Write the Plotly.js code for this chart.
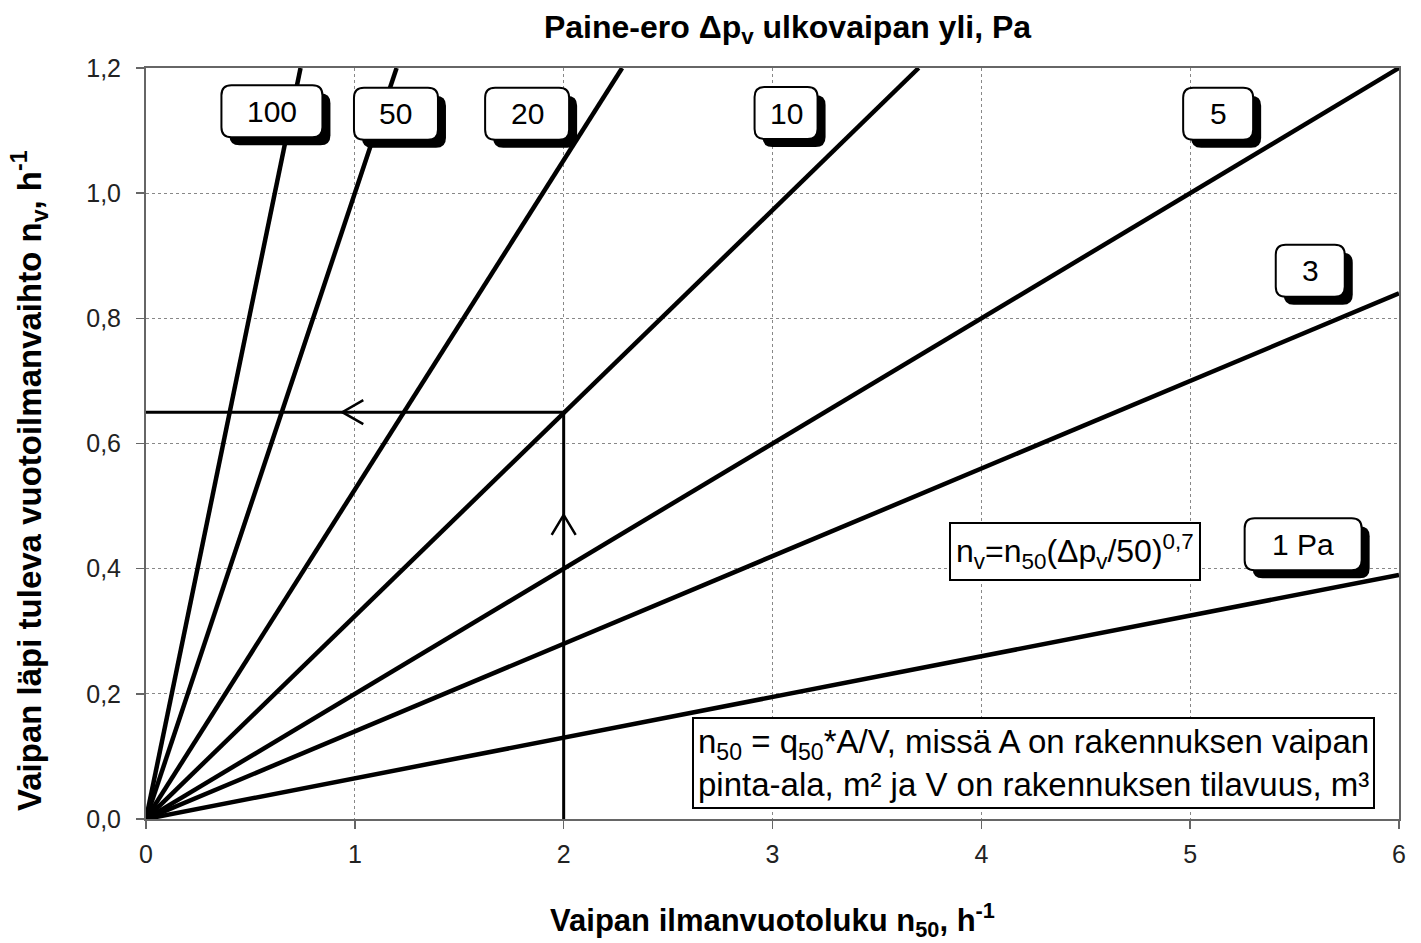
<!DOCTYPE html>
<html>
<head>
<meta charset="utf-8">
<script src="https://cdn.plot.ly/plotly-3.0.1.min.js"></script>
<style>html,body{margin:0;padding:0;background:#fff;}</style>
</head>
<body>
<div id="chart" style="width:1421px;height:943px;"></div>
<script>
// ---- data ----
const pressures = [1, 3, 5, 10, 20, 50, 100];          // Δp_v, Pa
const pressureLabels = ['1 Pa', '3', '5', '10', '20', '50', '100'];
const lineEndX = [6, 6, 6, 3.70, 2.28, 1.20, 0.74];      // end point of each line (n50)
const lineEndY = [0.39, 0.84, 1.20, 1.20, 1.20, 1.20, 1.20]; // end point of each line (nv)
const exampleX = [2, 2, 0];          // reading example path
const exampleY = [0, 0.65, 0.65];
const xTickVals = [0, 1, 2, 3, 4, 5, 6];
const xTickText = ['0', '1', '2', '3', '4', '5', '6'];
const yTickVals = [0, 0.2, 0.4, 0.6, 0.8, 1.0, 1.2];
const yTickText = ['0,0', '0,2', '0,4', '0,6', '0,8', '1,0', '1,2'];

// ---- label placement (layout only) ----
const labelPosX = [5.541, 5.575, 5.134, 3.065, 1.825, 1.197, 0.603];
const labelPosY = [0.439, 0.876, 1.127, 1.128, 1.127, 1.127, 1.131];
const labelW = [117, 69, 70, 63, 84, 84, 101];
const labelH = 52;

const FONT = 'Liberation Sans, Arial, sans-serif';

const traces = pressures.map((p, i) => ({
  type: 'scatter', mode: 'lines',
  x: [0, lineEndX[i]], y: [0, lineEndY[i]],
  line: {color: '#000', width: 4.5},
  name: p + ' Pa', showlegend: false, hoverinfo: 'skip'
}));
traces.push({
  type: 'scatter', mode: 'lines', x: exampleX, y: exampleY,
  line: {color: '#000', width: 3}, showlegend: false, hoverinfo: 'skip'
});

function rr(cx, cy, w, h, r) {
  const x0 = cx - w / 2, x1 = cx + w / 2, y0 = cy - h / 2, y1 = cy + h / 2;
  return `M${x0 + r},${y0} L${x1 - r},${y0} Q${x1},${y0} ${x1},${y0 + r} L${x1},${y1 - r} Q${x1},${y1} ${x1 - r},${y1} L${x0 + r},${y1} Q${x0},${y1} ${x0},${y1 - r} L${x0},${y0 + r} Q${x0},${y0} ${x0 + r},${y0} Z`;
}

const shapes = [];
const annotations = [];
pressureLabels.forEach((lab, i) => {
  const base = {type: 'path', xref: 'x', yref: 'y', xsizemode: 'pixel', ysizemode: 'pixel',
    xanchor: labelPosX[i], yanchor: labelPosY[i], layer: 'above'};
  shapes.push(Object.assign({}, base, {path: rr(8, -8, labelW[i], labelH, 10), fillcolor: '#000', line: {width: 0}}));
  shapes.push(Object.assign({}, base, {path: rr(0, 0, labelW[i], labelH, 10), fillcolor: '#fff', line: {color: '#000', width: 2}}));
  annotations.push({x: labelPosX[i], y: labelPosY[i], xref: 'x', yref: 'y', text: lab, showarrow: false,
    font: {family: FONT, size: 30, color: '#000'}, xanchor: 'center', yanchor: 'middle'});
});

// arrow heads (chevrons) on the reading example
const chevronBase = {type: 'path', xref: 'x', yref: 'y', xsizemode: 'pixel', ysizemode: 'pixel', layer: 'above', line: {color: '#000', width: 2.5}};
shapes.push(Object.assign({}, chevronBase, {xanchor: 0.94, yanchor: 0.65, path: 'M21,12 L0,0 L21,-12'}));
shapes.push(Object.assign({}, chevronBase, {xanchor: 2, yanchor: 0.486, path: 'M-12,-20 L0,0 L12,-20'}));

annotations.push({x: 4.449, y: 0.428, xref: 'x', yref: 'y', showarrow: false,
  text: 'n<sub>v</sub>=n<sub>50</sub>(Δp<sub>v</sub>/50)<sup>0,7</sup>',
  font: {family: FONT, size: 32, color: '#000'}, bgcolor: '#fff', bordercolor: '#000', borderwidth: 2, borderpad: 5,
  xanchor: 'center', yanchor: 'middle'});
annotations.push({x: 4.248, y: 0.0895, xref: 'x', yref: 'y', showarrow: false, align: 'left',
  text: 'n<sub>50</sub> = q<sub>50</sub>*A/V, missä A on rakennuksen vaipan<br>pinta-ala, m² ja V on rakennuksen tilavuus, m³',
  font: {family: FONT, size: 33, color: '#000'}, bgcolor: '#fff', bordercolor: '#000', borderwidth: 2, borderpad: 4,
  xanchor: 'center', yanchor: 'middle'});

// y-axis title (placed as annotation to match the reference's off-centre position)
annotations.push({x: -0.0926, y: 0.4514, xref: 'paper', yref: 'paper', showarrow: false, textangle: -90,
  text: 'Vaipan läpi tuleva vuotoilmanvaihto n<sub>v</sub>, h<sup>-1</sup>',
  font: {family: FONT, size: 33, weight: 'bold', color: '#000'}, xanchor: 'center', yanchor: 'middle'});

const axisCommon = {
  showline: true, mirror: true, linecolor: '#666', linewidth: 2,
  ticks: 'outside', ticklen: 8, tickcolor: '#666', tickwidth: 1.5,
  showgrid: true, gridcolor: '#888', gridwidth: 1, griddash: 'dot',
  zeroline: false, tickfont: {family: FONT, size: 25, color: '#222'}
};

const layout = {
  width: 1421, height: 943,
  margin: {l: 146, r: 22, t: 68, b: 124},
  paper_bgcolor: '#fff', plot_bgcolor: '#fff',
  title: {text: 'Paine-ero Δp<sub>v</sub> ulkovaipan yli, Pa', x: 0.512, xref: 'paper', xanchor: 'center',
    y: 0.972, yref: 'container', yanchor: 'middle',
    font: {family: FONT, size: 32, weight: 'bold', color: '#000'}},
  xaxis: Object.assign({}, axisCommon, {range: [0, 6], tickvals: xTickVals, ticktext: xTickText, ticklabelstandoff: 4,
    title: {text: 'Vaipan ilmanvuotoluku n<sub>50</sub>, h<sup>-1</sup>', standoff: 42,
      font: {family: FONT, size: 31, weight: 'bold', color: '#000'}}}),
  yaxis: Object.assign({}, axisCommon, {range: [0, 1.2], tickvals: yTickVals, ticktext: yTickText, ticklabelstandoff: 10}),
  shapes: shapes, annotations: annotations, showlegend: false
};

Plotly.newPlot('chart', traces, layout, {displayModeBar: false, staticPlot: true});
</script>
</body>
</html>
